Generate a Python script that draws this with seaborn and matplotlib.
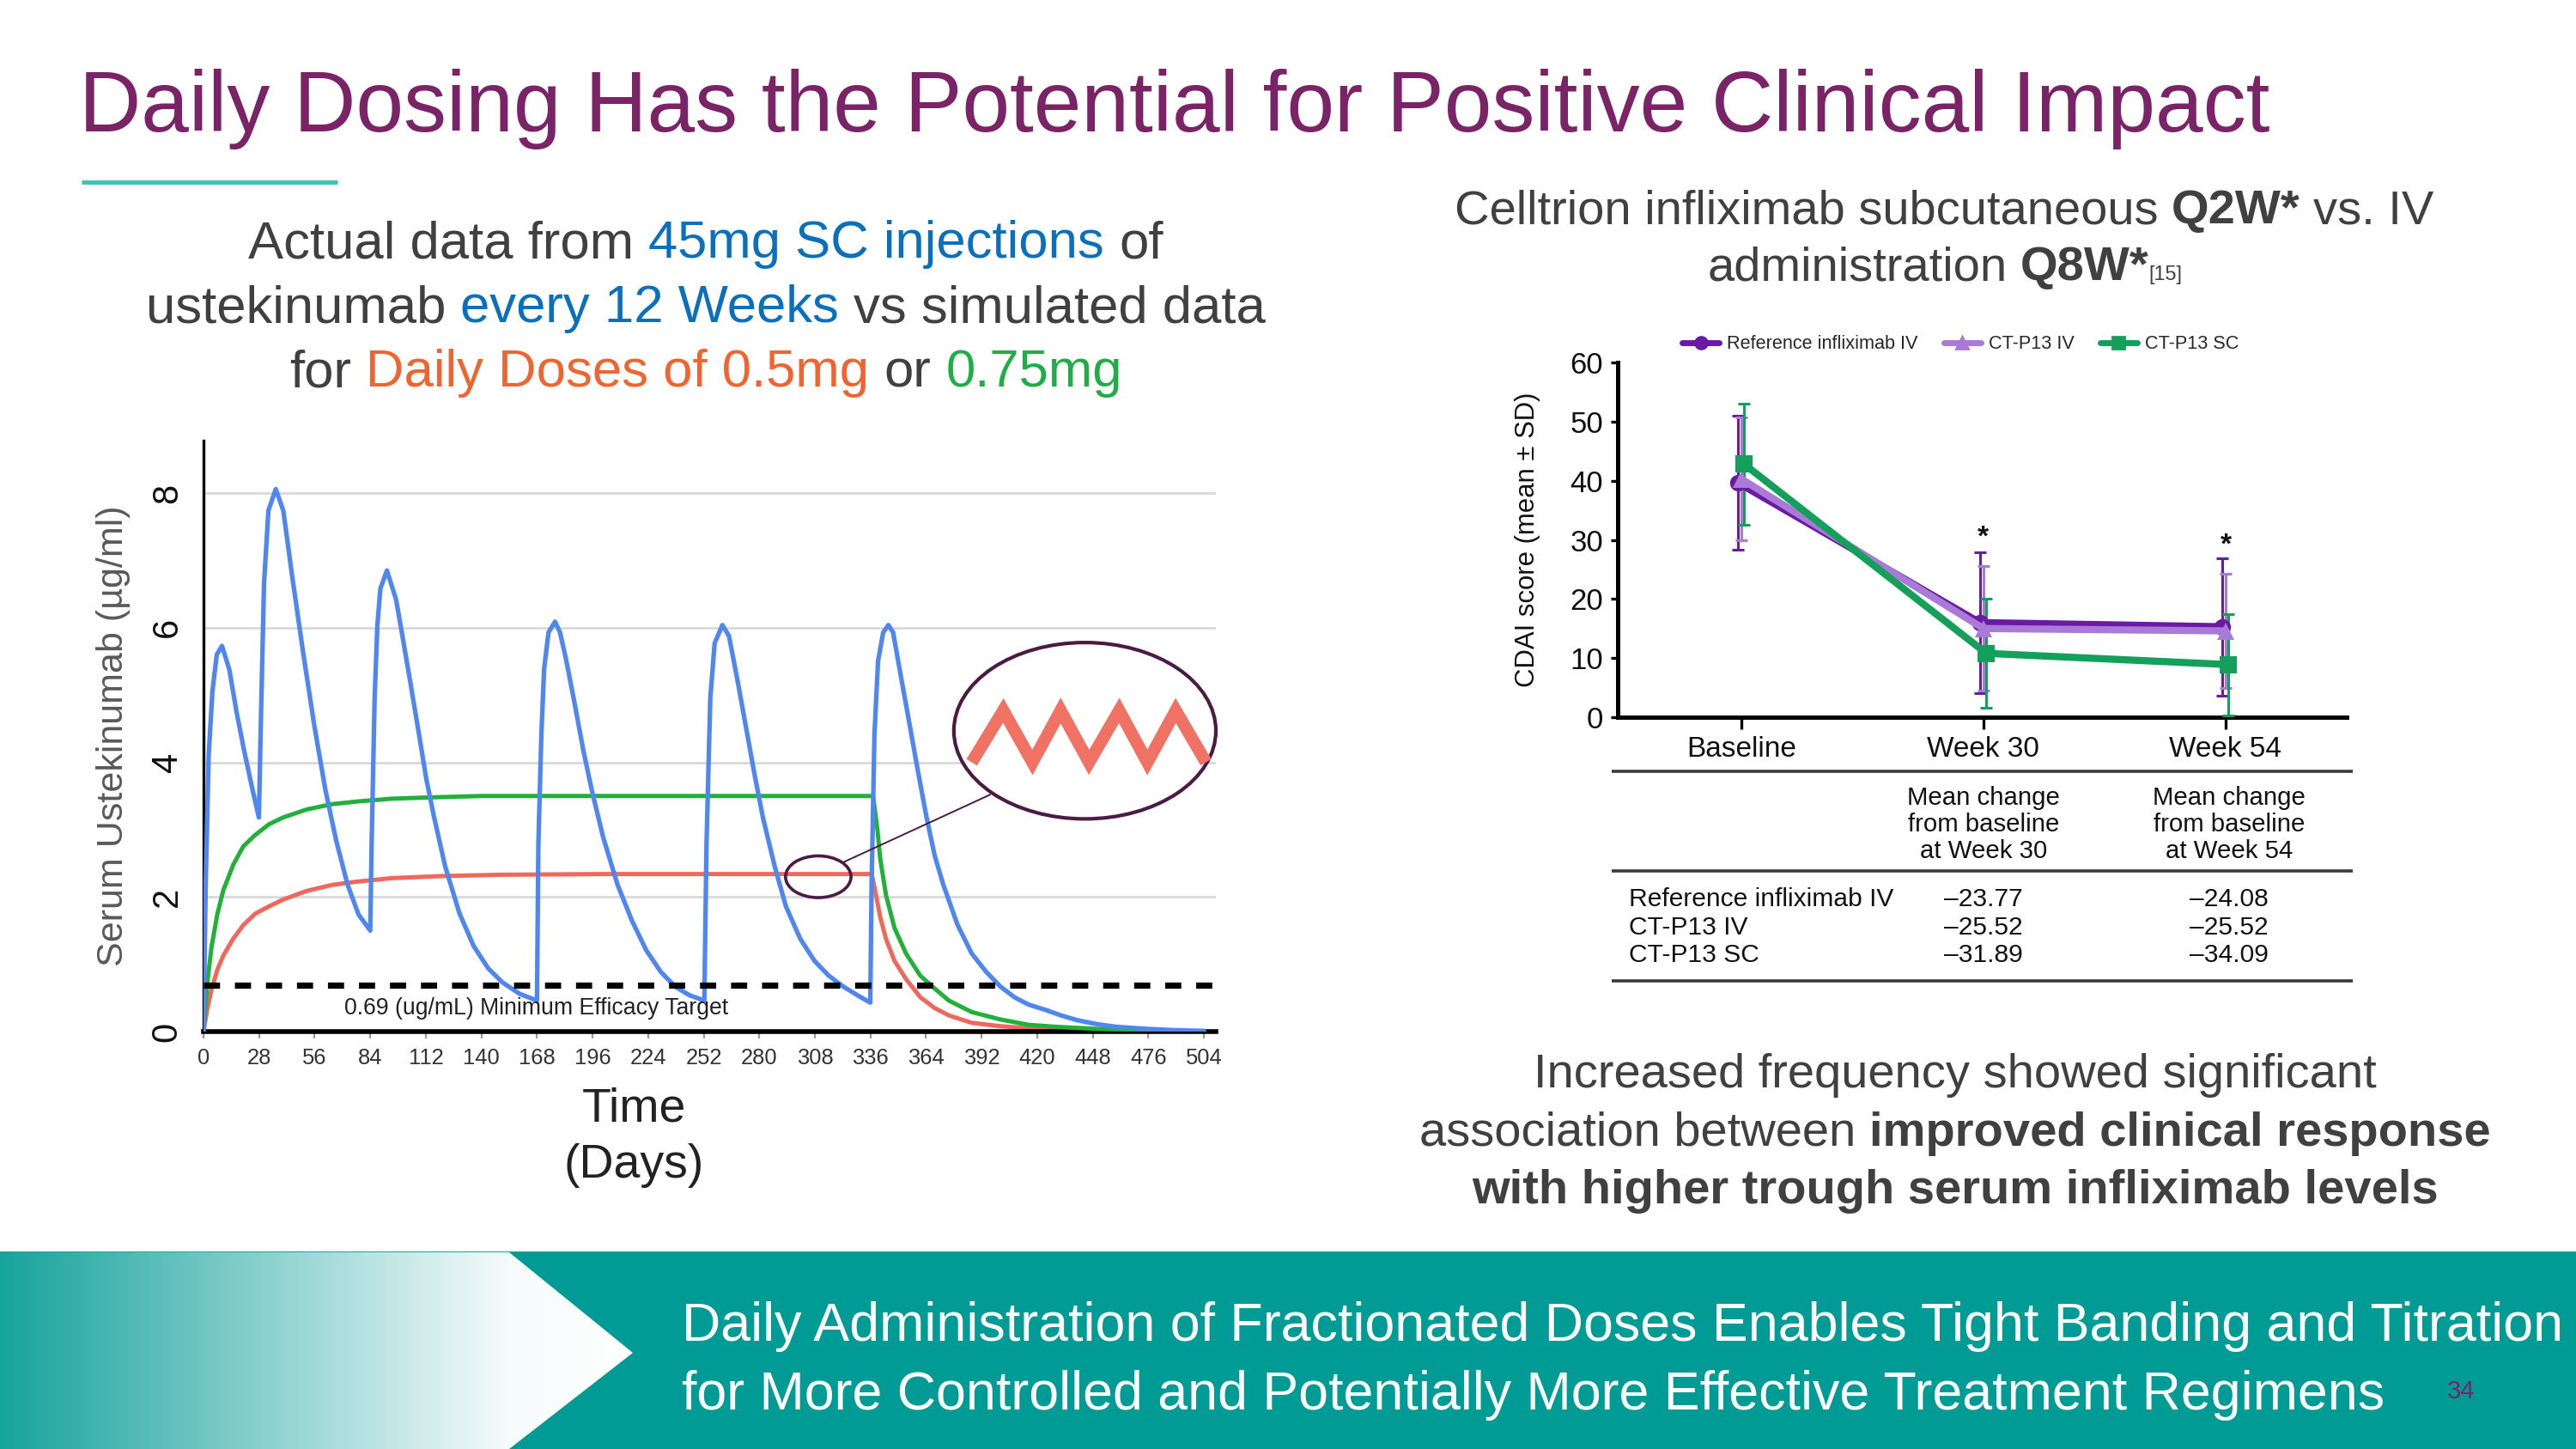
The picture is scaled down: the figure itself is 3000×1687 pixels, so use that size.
import numpy as np
import pandas as pd
import seaborn as sns
import matplotlib.pyplot as plt
from matplotlib.patches import Ellipse, Rectangle, Polygon
from matplotlib.colors import LinearSegmentedColormap
from matplotlib.lines import Line2D

# ---------------- data: ustekinumab serum levels ----------------
# actual 45mg SC every 12 weeks
blue_days = [0, 1.1, 2.6, 4.5, 6.7, 9.3, 13, 16.7, 20.5, 24.2, 27.9,
             29, 30.5, 32.7, 36.4, 40.2, 44.6, 50.2, 55.8, 61.4, 66.9, 72.5, 78.1, 84,
             84.7, 86.2, 87.6, 89.1, 92.4, 97, 99.9, 104.3, 108.6, 112.2, 115.9, 121.7, 128.9, 136.1, 143.4, 150.6, 159.3, 168,
             168.7, 170.2, 171.6, 173.8, 177.1, 179.6, 182.5, 186.8, 191.2, 195.5, 201.3, 208.5, 215.8, 223, 230.3, 237.5, 244.8, 252.3,
             253.4, 255.3, 257.5, 261.4, 264.7, 269, 273.3, 277.6, 281.9, 287.7, 293.4, 300.6, 307.8, 315, 322.2, 329.4, 335.9,
             336.6, 338, 339.8, 342.4, 345, 347.4, 351, 355.3, 359.6, 364, 368.3, 372.6, 379.8, 387, 394.2, 401.4, 408.5, 415.7, 424.4,
             432, 440, 450, 460, 475, 490, 504]
blue_vals = [0, 2.19, 4.1, 5.06, 5.6, 5.73, 5.38, 4.74, 4.17, 3.66, 3.18,
             4.74, 6.66, 7.74, 8.06, 7.74, 6.78, 5.63, 4.55, 3.59, 2.83, 2.19, 1.74, 1.5,
             2.79, 4.95, 6.04, 6.58, 6.85, 6.42, 5.93, 5.17, 4.41, 3.76, 3.22, 2.46, 1.76, 1.27, 0.94, 0.73, 0.56, 0.46,
             2.79, 4.41, 5.39, 5.93, 6.09, 5.93, 5.55, 4.90, 4.2, 3.6, 2.89, 2.19, 1.65, 1.21, 0.89, 0.67, 0.54, 0.46,
             2.79, 4.95, 5.77, 6.04, 5.88, 5.22, 4.52, 3.82, 3.17, 2.46, 1.86, 1.38, 1.05, 0.83, 0.67, 0.54, 0.43,
             2.24, 4.41, 5.5, 5.93, 6.04, 5.93, 5.33, 4.63, 3.92, 3.22, 2.62, 2.19, 1.59, 1.16, 0.89, 0.67, 0.51, 0.40, 0.32,
             0.24, 0.17, 0.11, 0.07, 0.04, 0.02, 0.01]
# simulated daily 0.5mg
red_days = [0, 2, 4, 7, 10, 15, 20, 26, 33, 40, 52, 65, 78, 95, 120, 150, 200, 250, 300, 336.6,
            338.8, 340.9, 343.8, 348.1, 353.9, 361.1, 368.3, 375.5, 387, 401.4, 415.7, 430, 450, 475, 504]
red_vals = [0, 0.35, 0.62, 0.92, 1.13, 1.38, 1.58, 1.75, 1.86, 1.96, 2.09, 2.18, 2.23, 2.28, 2.31, 2.33, 2.34, 2.34, 2.34, 2.34,
            2.03, 1.70, 1.38, 1.05, 0.78, 0.51, 0.35, 0.24, 0.13, 0.08, 0.05, 0.03, 0.01, 0.0, 0.0]
# simulated daily 0.75mg
green_days = [0, 2, 4, 7, 10, 15, 20, 26, 33, 40, 52, 65, 78, 95, 115, 140, 200, 250, 300, 337.3,
              339.5, 340.9, 343.8, 348.1, 353.9, 361.1, 368.3, 375.5, 387, 401.4, 415.7, 430, 450, 475, 504]
green_vals = [0, 0.75, 1.25, 1.75, 2.1, 2.48, 2.75, 2.92, 3.08, 3.18, 3.3, 3.38, 3.42, 3.46, 3.48, 3.5, 3.5, 3.5, 3.5, 3.5,
              3.0, 2.57, 2.03, 1.54, 1.16, 0.83, 0.64, 0.46, 0.29, 0.18, 0.10, 0.07, 0.04, 0.02, 0.0]
efficacy_target = 0.69
day_ticks = [0, 28, 56, 84, 112, 140, 168, 196, 224, 252, 280, 308, 336, 364, 392, 420, 448, 476, 504]
level_ticks = [0, 2, 4, 6, 8]

# ---------------- data: CDAI score (mean +/- SD) ----------------
visits = ['Baseline', 'Week 30', 'Week 54']
groups = ['Reference infliximab IV', 'CT-P13 IV', 'CT-P13 SC']
ref_iv_mean = [39.7, 16.0, 15.3]
ref_iv_sd = [11.3, 11.9, 11.6]
ctp13_iv_mean = [40.3, 15.0, 14.6]
ctp13_iv_sd = [10.4, 10.5, 9.6]
ctp13_sc_mean = [42.8, 10.8, 8.9]
ctp13_sc_sd = [10.2, 9.2, 8.6]
sig_visits = [1, 2]
sig_heights = [30.3, 29.1]
cdai_ticks = [0, 10, 20, 30, 40, 50, 60]

table_rows = ['Reference infliximab IV', 'CT-P13 IV', 'CT-P13 SC']
chg_week30 = ['\u201323.77', '\u201325.52', '\u201331.89']
chg_week54 = ['\u201324.08', '\u201325.52', '\u201334.09']

# ---------------- colours ----------------
PURPLE = '#7a2367'
DARK = '#404040'
BLUE_TXT = '#0a70bd'
ORANGE_TXT = '#ef6430'
GREEN_TXT = '#20ad48'
C_BLUE = '#4f86f0'
C_RED = '#f0675c'
C_GREEN = '#22b03a'
group_colors = ['#6a1aa3', '#a97ad6', '#14a05a']
group_markers = ['o', '^', 's']
group_offsets = [-0.015, 0.0, 0.012]

sns.set_theme(style='white')
plt.rcParams['font.family'] = ['Liberation Sans', 'DejaVu Sans']

DPI = 200
W, H = 3000, 1687
fig = plt.figure(figsize=(W / DPI, H / DPI), dpi=DPI)

def frac(x0, y0, x1, y1):
    return [x0 / W, 1 - y1 / H, (x1 - x0) / W, (y1 - y0) / H]

# background axes in pixel units (y down)
bg = fig.add_axes([0, 0, 1, 1], zorder=0)
bg.axis('off')

def rich_line(xc, y, parts, size):
    """parts: (text, colour, weight, rel size, space before)"""
    r = fig.canvas.get_renderer()
    objs, total = [], 0
    for txt, col, wt, rel, sp in parts:
        t = bg.text(0, y, txt, color=col, fontweight=wt, fontsize=size * rel,
                    va='baseline', ha='left')
        w = t.get_window_extent(r).width
        gap = 0.278 * size * DPI / 72 if sp else 0
        objs.append((t, w, gap))
        total += w + gap
    x = xc - total / 2
    for t, w, gap in objs:
        x += gap
        t.set_x(x)
        x += w

# title + accent
bg.text(92, 153, 'Daily Dosing Has the Potential for Positive Clinical Impact',
        fontsize=36, color=PURPLE, va='baseline', ha='left')
bg.plot([95, 393], [212, 212], color='#3fc5b8', lw=1.8, solid_capstyle='butt')

# banner with gradient chevron
bg.add_patch(Rectangle((0, 1458), W, H - 1458, color='#009b94', zorder=1))
cmap = LinearSegmentedColormap.from_list('fade', [(0, '#17a39d'), (0.8, '#f6fbfb'), (1, '#ffffff')])
im = bg.imshow(np.linspace(0, 1, 256).reshape(1, -1), extent=[0, 740, H, 1458],
               cmap=cmap, aspect='auto', zorder=2)
chevron = Polygon([(0, 1458), (593, 1458), (737, 1575), (593, H), (0, H)], closed=True,
                  transform=bg.transData)
im.set_clip_path(chevron)
bg.text(794, 1561, 'Daily Administration of Fractionated Doses Enables Tight Banding and Titration',
        color='white', fontsize=22.6, va='baseline', zorder=3)
bg.text(794, 1641, 'for More Controlled and Potentially More Effective Treatment Regimens',
        color='white', fontsize=22.6, va='baseline', zorder=3)
bg.text(2866, 1628, '34', color=PURPLE, fontsize=10.5, ha='center', va='baseline', zorder=3)

bg.set_xlim(0, W)
bg.set_ylim(H, 0)

# left heading
rich_line(822, 300, [('Actual data from', DARK, 'normal', 1, False),
                     ('45mg SC injections', BLUE_TXT, 'normal', 1, True),
                     ('of', DARK, 'normal', 1, True)], 22.2)
rich_line(822, 375, [('ustekinumab', DARK, 'normal', 1, False),
                     ('every 12 Weeks', BLUE_TXT, 'normal', 1, True),
                     ('vs simulated data', DARK, 'normal', 1, True)], 22.2)
rich_line(822, 450, [('for', DARK, 'normal', 1, False),
                     ('Daily Doses of 0.5mg', ORANGE_TXT, 'normal', 1, True),
                     ('or', DARK, 'normal', 1, True),
                     ('0.75mg', GREEN_TXT, 'normal', 1, True)], 22.2)

# right heading
rich_line(2264, 260, [('Celltrion infliximab subcutaneous', DARK, 'normal', 1, False),
                      ('Q2W*', DARK, 'bold', 1, True),
                      ('vs. IV', DARK, 'normal', 1, True)], 20.2)
rich_line(2265, 326, [('administration', DARK, 'normal', 1, False),
                      ('Q8W*', DARK, 'bold', 1, True),
                      ('[15]', DARK, 'normal', 0.42, False)], 20.2)

# bottom right statement
rich_line(2277, 1266, [('Increased frequency showed significant', DARK, 'normal', 1, False)], 20.2)
rich_line(2277, 1334, [('association between', DARK, 'normal', 1, False),
                       ('improved clinical response', DARK, 'bold', 1, True)], 20.2)
rich_line(2277, 1401, [('with higher trough serum infliximab levels', DARK, 'bold', 1, False)], 20.2)

# axis captions of left chart
bg.text(738, 1306, 'Time', fontsize=20, color='#222222', ha='center', va='baseline')
bg.text(738, 1371, '(Days)', fontsize=20, color='#222222', ha='center', va='baseline')
bg.text(132, 857, 'Serum Ustekinumab (\u00b5g/ml)', fontsize=15.5, color='#595959',
        rotation=90, ha='center', va='center')
bg.text(1779, 628, 'CDAI score (mean \u00b1 SD)', fontsize=11.2, color='#111111',
        rotation=90, ha='center', va='center')

# ---------------- left chart ----------------
ax1 = fig.add_axes(frac(237, 513, 1416, 1201), zorder=2)
ax1.patch.set_alpha(0)
for lv in level_ticks[1:]:
    ax1.axhline(lv, color='#d9d9d9', lw=1.0, zorder=0.5)
sns.lineplot(x=red_days, y=red_vals, ax=ax1, color=C_RED, lw=1.8, estimator=None, sort=False, zorder=2)
sns.lineplot(x=green_days, y=green_vals, ax=ax1, color=C_GREEN, lw=1.8, estimator=None, sort=False, zorder=3)
sns.lineplot(x=blue_days, y=blue_vals, ax=ax1, color=C_BLUE, lw=1.9, estimator=None, sort=False, zorder=4)
ax1.axhline(efficacy_target, color='black', lw=2.6, dashes=(2.6, 2.4), zorder=4.5)
ax1.text(71, 0.34, '0.69 (ug/mL) Minimum Efficacy Target', fontsize=9.6,
         color='#222222', va='center', ha='left', zorder=5)

# zoom call-out
ax1.add_patch(Ellipse((309.7, 2.3), 33, 0.62, fill=False, ec='#4b1a45', lw=1.3, zorder=6))
ax1.plot([321.9, 396.3], [2.51, 3.52], color='#4b1a45', lw=0.7, zorder=6)
ax1.add_patch(Ellipse((444, 4.47), 132, 2.62, fc='white', ec='#4b1a45', lw=1.5, zorder=5,
                      clip_on=False))
zz, = ax1.plot([387, 402.9, 417.6, 431.8, 446.1, 461.3, 475.5, 489.8, 505],
               [4.0, 4.77, 4.0, 4.77, 4.0, 4.77, 4.0, 4.77, 4.0],
               color='#f07264', lw=5.2, solid_joinstyle='miter', solid_capstyle='butt',
               zorder=6, clip_on=False)
zz.set_clip_path(Rectangle((380, 4.12), 130, 2, transform=ax1.transData))

ax1.set_xlim(0, 510)
ax1.set_ylim(0, 8.78)
ax1.set_xticks(day_ticks)
ax1.set_xticklabels([str(d) for d in day_ticks], fontsize=9.2, color='#333333')
ax1.set_yticks(level_ticks)
ax1.set_yticklabels([str(v) for v in level_ticks], rotation=90, va='center', fontsize=15,
                    color='#111111')
ax1.tick_params(axis='x', length=3, width=0.8, color='#999999', pad=4, direction='out', bottom=True)
ax1.tick_params(axis='y', length=0, pad=8)
for s in ['top', 'right']:
    ax1.spines[s].set_visible(False)
ax1.spines['left'].set_linewidth(1.2)
ax1.spines['left'].set_color('black')
ax1.spines['bottom'].set_linewidth(2.0)
ax1.spines['bottom'].set_color('black')
ax1.set_xlabel('')
ax1.set_ylabel('')

# ---------------- right chart ----------------
ax2 = fig.add_axes(frac(1884, 422, 2733, 835), zorder=2)
ax2.patch.set_alpha(0)
means = [ref_iv_mean, ctp13_iv_mean, ctp13_sc_mean]
sds = [ref_iv_sd, ctp13_iv_sd, ctp13_sc_sd]
cdai = pd.DataFrame({
    'x': [i + group_offsets[g] for g in range(3) for i in range(len(visits))],
    'score': [v for m in means for v in m],
    'group': [groups[g] for g in range(3) for _ in visits],
})
for g in range(3):
    xs = [i + group_offsets[g] for i in range(len(visits))]
    ax2.errorbar(xs, means[g], yerr=sds[g], fmt='none', ecolor=group_colors[g],
                 elinewidth=1.1, capsize=2.5, capthick=1.1, zorder=2 + g)
sns.lineplot(data=cdai, x='x', y='score', hue='group', style='group', hue_order=groups,
             style_order=groups, palette=group_colors, markers=group_markers, dashes=False,
             lw=3.0, markersize=7, markeredgewidth=0, estimator=None, legend=False, ax=ax2, zorder=6)
for xv, yv in zip(sig_visits, sig_heights):
    ax2.text(xv, yv, '*', ha='center', va='center', fontsize=12, fontweight='bold', color='#111111')

handles = [Line2D([], [], color=group_colors[g], marker=group_markers[g], lw=2.5, markersize=5)
           for g in range(3)]
ax2.legend(handles, groups, ncol=3, loc='lower center', bbox_to_anchor=(0.47, 1.0),
           frameon=False, fontsize=7.8, handlelength=2.0, handletextpad=0.4,
           columnspacing=1.4, borderaxespad=0.1)

ax2.set_xlim(-0.51, 2.5)
ax2.set_ylim(0, 60)
ax2.set_xticks(range(len(visits)))
ax2.set_xticklabels(visits, fontsize=12, color='#111111')
ax2.set_yticks(cdai_ticks)
ax2.set_yticklabels([str(t) for t in cdai_ticks], fontsize=12.5, color='#111111')
ax2.tick_params(axis='x', length=5, width=1.2, color='black', direction='out', bottom=True, pad=3)
ax2.tick_params(axis='y', length=3, width=1.2, color='black', direction='out', left=True, pad=3)
for s in ['top', 'right']:
    ax2.spines[s].set_visible(False)
for s in ['left', 'bottom']:
    ax2.spines[s].set_linewidth(1.8)
    ax2.spines[s].set_color('black')
ax2.set_xlabel('')
ax2.set_ylabel('')

# ---------------- change-from-baseline table ----------------
for yl in [898, 1014, 1142]:
    bg.plot([1877, 2740], [yl, yl], color='#3a3a3a', lw=1.3, solid_capstyle='butt')
bg.text(2310, 960, 'Mean change\nfrom baseline\nat Week 30', ha='center', va='center',
        fontsize=10.6, linespacing=1.12, color='#111111')
bg.text(2596, 960, 'Mean change\nfrom baseline\nat Week 54', ha='center', va='center',
        fontsize=10.6, linespacing=1.12, color='#111111')
for i, (lab, c30, c54) in enumerate(zip(table_rows, chg_week30, chg_week54)):
    yy = 1047 + i * 32.5
    bg.text(1897, yy, lab, ha='left', va='center', fontsize=10.8, color='#111111')
    bg.text(2310, yy, c30, ha='center', va='center', fontsize=10.8, color='#111111')
    bg.text(2596, yy, c54, ha='center', va='center', fontsize=10.8, color='#111111')

fig.savefig('out.png', dpi=DPI)
